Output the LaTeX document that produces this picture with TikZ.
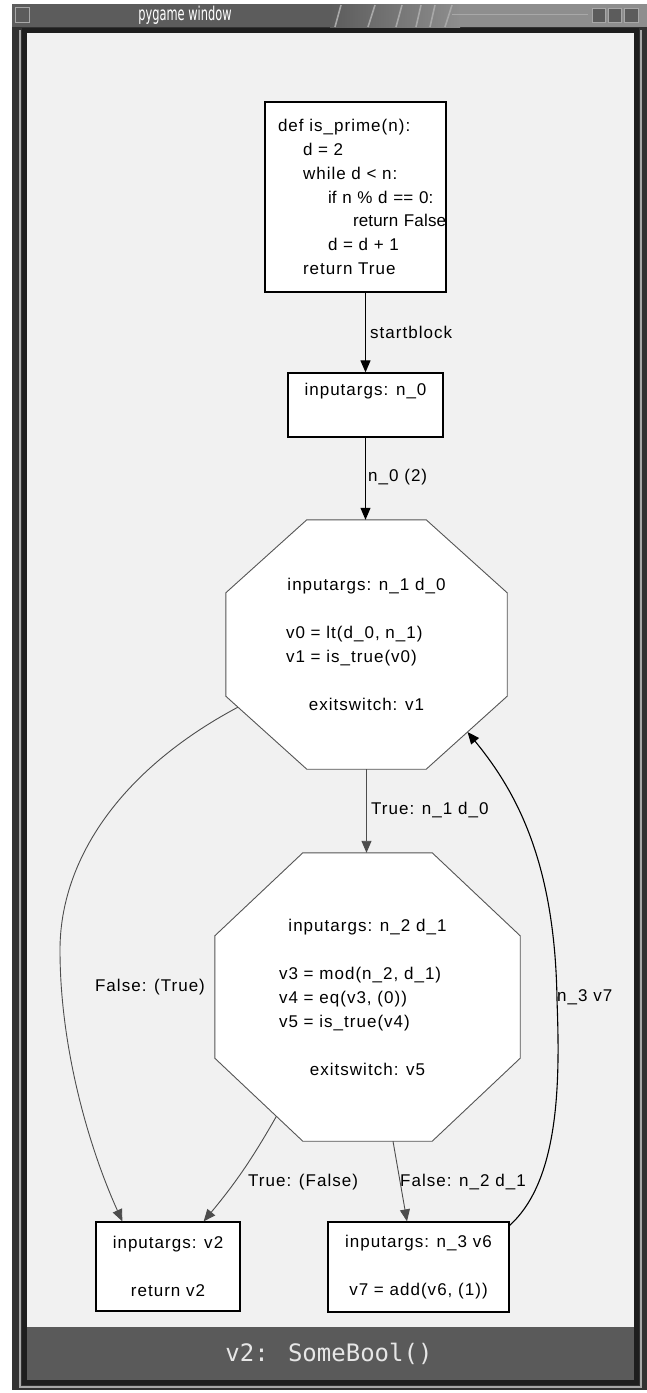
\documentclass[tikz,border=0pt]{standalone}
\usepackage{graphicx}
\usepackage{fontspec}
\setmainfont{Liberation Sans}
\newfontfamily\gvfont{Liberation Sans}[LetterSpace=6]
\newfontfamily\gvtight{Liberation Sans}[LetterSpace=1]
\newfontfamily\monofont{DejaVu Sans Mono}
\newfontfamily\titlefont{DejaVu Sans}
\usetikzlibrary{arrows.meta,calc}
\pgfdeclarelayer{back}
\pgfsetlayers{back,main}
\definecolor{contentbg}{HTML}{F1F1F1}
\definecolor{framedark}{HTML}{323232}
\definecolor{frameinner}{HTML}{1E1E1E}
\definecolor{bevel}{HTML}{A8A8A8}
\definecolor{titledark}{HTML}{5C5C5C}
\definecolor{titlelight}{HTML}{8E8E8E}
\definecolor{statusbg}{HTML}{5A5A5A}
\definecolor{statustext}{HTML}{E6E6E6}
\definecolor{edgegray}{HTML}{4D4D4D}
\definecolor{octborder}{HTML}{555555}
\newcommand\drawocto[3]{%
  \begin{pgfonlayer}{back}
  \draw[octline] ([xshift=#2]#1.north west) -- ([xshift=-#2]#1.north east)
    -- ([yshift=-#3]#1.north east) -- ([yshift=#3]#1.south east)
    -- ([xshift=-#2]#1.south east) -- ([xshift=#2]#1.south west)
    -- ([yshift=#3]#1.south west) -- ([yshift=-#3]#1.north west) -- cycle;
  \end{pgfonlayer}}
\newcommand\narrowline[1]{\mbox{\gvtight #1}}
\begin{document}
\begin{tikzpicture}[x=1pt,y=-1pt,
  gvtext/.style={font=\gvfont\fontsize{17}{23.7}\selectfont},
  box/.style={gvtext, draw=black, fill=white, line width=1.3pt, inner sep=0pt, align=center},
  octnode/.style={gvtext, font=\gvfont\fontsize{17}{24}\selectfont, draw=none, inner sep=0pt, align=center},
  octline/.style={draw=octborder, fill=white, line width=0.9pt},
  lbl/.style={gvtext, inner sep=0pt},
  eb/.style={draw=black, line width=1.1pt, -{Triangle[length=12pt,width=10pt]}},
  eg/.style={draw=edgegray, line width=0.9pt, -{Triangle[length=12pt,width=10pt]}},
  stripe/.style={draw=bevel, line width=1.6pt},
  winbtn/.style={draw=bevel, fill=titledark, line width=0.8pt}
]
\useasboundingbox (0,0) rectangle (647,1393);
\begin{pgfonlayer}{back}
  \fill[white] (0,0) rectangle (647,1393);
  % window frame
  \fill[framedark] (12,4) rectangle (647,1390);
  \fill[titledark] (12,4) rectangle (647,27);
  \shade[left color=titledark, right color=titlelight] (330,4) rectangle (460,27);
  \fill[titlelight] (460,4) rectangle (647,27);
  \draw[stripe] (335,27) -- (341,5);
  \draw[stripe] (368,27) -- (375,5);
  \draw[stripe] (396,27) -- (402,5);
  \draw[stripe] (416,27) -- (421,5);
  \draw[stripe] (430,27) -- (435,5);
  \draw[stripe] (445,27) -- (452,5);
  \draw[bevel, line width=1pt] (452,14) -- (588,14);
  \draw[winbtn] (15,7) rectangle (29,22);
  \draw[winbtn] (592,8) rectangle (605,22);
  \draw[winbtn] (608,8) rectangle (621,22);
  \draw[winbtn] (624,8) rectangle (638,22);
  \fill[frameinner] (22,28) rectangle (639,1385);
  \draw[bevel, line width=1.2pt] (20,30) -- (20,1387) -- (641,1387) -- (641,30);
  \fill[contentbg] (27,33) rectangle (634,1327);
  \fill[statusbg] (27,1327) rectangle (634,1380);
\end{pgfonlayer}

\node[text=white, font=\titlefont\fontsize{19}{19}\selectfont] (title) at (185,15.5) {\scalebox{0.6}[1]{pygame window}};

% nodes
\node[box, minimum width=181pt, minimum height=190pt, text width=155pt, inner xsep=13pt, align=left] (code) at (355.5,197)
  {\mbox{def is\_prime(n):}\\
   \hspace*{25pt}\mbox{d = 2}\\
   \hspace*{25pt}\mbox{while d < n:}\\
   \hspace*{50pt}\narrowline{if n \% d == 0:}\\
   \hspace*{75pt}\narrowline{return False}\\
   \hspace*{50pt}\mbox{d = d + 1}\\
   \hspace*{25pt}\mbox{return True}};
\node[box, minimum width=155pt, minimum height=64pt] (b1) at (365.5,405) {inputargs: n\_0\\ \strut};
\node[octnode, minimum width=281pt, minimum height=249pt] (o1) at (366.5,644.5)
  {inputargs: n\_1 d\_0\\ \strut\\
   \makebox[161pt][l]{v0 = lt(d\_0, n\_1)}\\
   \makebox[161pt][l]{v1 = is\_true(v0)}\\ \strut\\
   exitswitch: v1};
\drawocto{o1}{81}{73}
\node[octnode, minimum width=305pt, minimum height=288pt] (o2) at (367.5,997)
  {inputargs: n\_2 d\_1\\ \strut\\
   \makebox[177pt][l]{v3 = mod(n\_2, d\_1)}\\
   \makebox[177pt][l]{v4 = eq(v3, (0))}\\
   \makebox[177pt][l]{v5 = is\_true(v4)}\\ \strut\\
   exitswitch: v5};
\drawocto{o2}{88}{83}
\node[box, minimum width=144pt, minimum height=89pt] (b2) at (168,1266.5) {inputargs: v2\\ \strut\\ return v2};
\node[box, minimum width=181pt, minimum height=90pt] (b3) at (418.5,1267) {inputargs: n\_3 v6\\ \strut\\ v7 = add(v6, (1))};

% connection points on octagon sides
\coordinate (o1ll) at ($([yshift=73]o1.south west)!0.15!([xshift=81]o1.south west)$);
\coordinate (o1lr) at ($([yshift=73]o1.south east)!0.49!([xshift=-81]o1.south east)$);
\coordinate (o2ll) at ($([yshift=83]o2.south west)!0.70!([xshift=88]o2.south west)$);

% edges
\draw[eb] (b1.north |- code.south) -- (b1.north);
\draw[eb] (b1.south) -- (b1.south |- o1.north);
\draw[eg] (o1.south) -- (o1.south |- o2.north);
\draw[eg] (o1ll) .. controls (120,770) and (60,860) .. (60,950)
  .. controls (60,1050) and (90,1150) .. ([xshift=27pt]b2.north west);
\draw[eg] (o2ll) to[bend left=5] ([xshift=-37pt]b2.north east);
\draw[eg] ([xshift=25.5pt]o2.south) -- ([xshift=-11.5pt]b3.north);
\draw[eb] ([yshift=-4pt]b3.north east) .. controls (560,1180) and (560,1080) .. (557,1000)
  .. controls (555,860) and (515,790) .. (o1lr);

% labels
\node[lbl, anchor=west] (l1) at (370,332) {startblock};
\node[lbl, anchor=west] (l2) at (368,477) {n\_0 (2)};
\node[lbl, anchor=west] (l3) at (371,810) {True: n\_1 d\_0};
\node[lbl] (l4) at (150,987) {False: (True)};
\node[lbl, anchor=west] (l5) at (248,1182) {True: (False)};
\node[lbl, anchor=west] (l6) at (400,1182) {False: n\_2 d\_1};
\node[lbl, anchor=west] (l7) at (557,997) {n\_3 v7};

% status bar
\node[text=statustext, font=\monofont\fontsize{24}{24}\selectfont] (status) at (329,1354) {v2: SomeBool()};
\end{tikzpicture}
\end{document}
